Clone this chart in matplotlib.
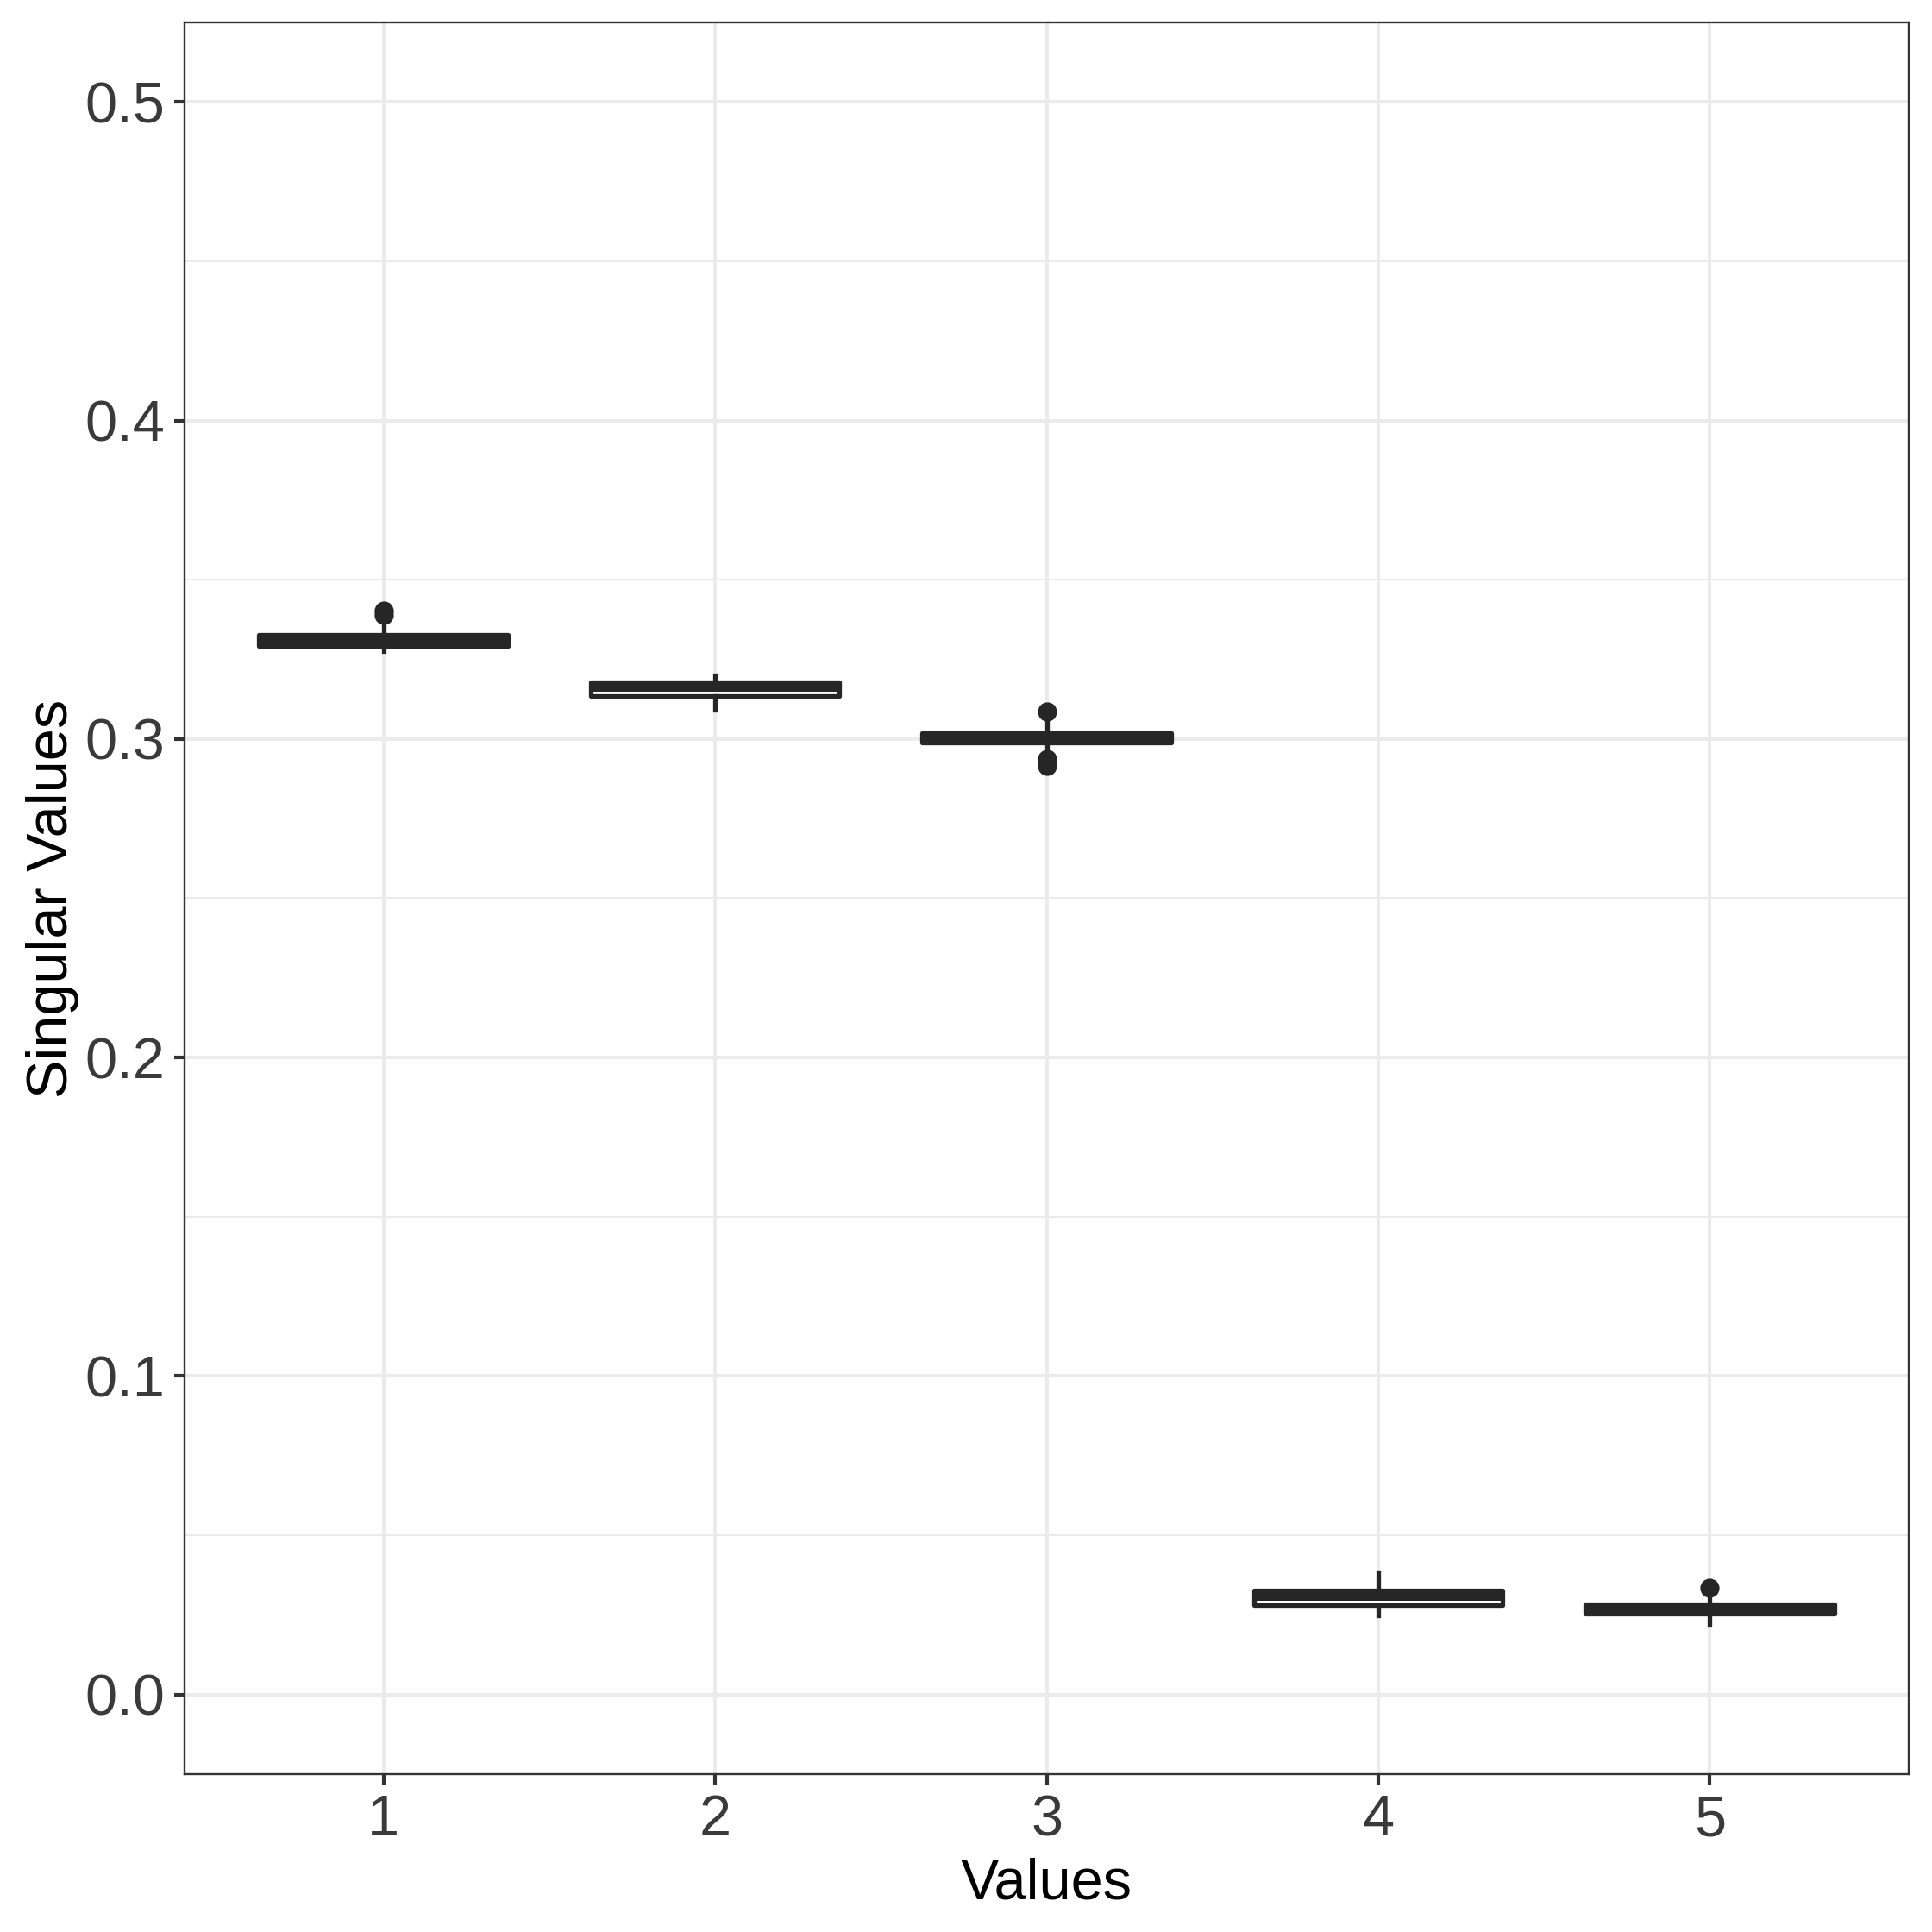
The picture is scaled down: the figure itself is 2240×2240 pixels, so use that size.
import matplotlib.pyplot as plt
from matplotlib.ticker import MultipleLocator

# Box summaries (one entry per singular value index)
labels = ['1', '2', '3', '4', '5']
q1 = [0.3291, 0.3135, 0.2989, 0.0282, 0.0253]
med = [0.3308, 0.3161, 0.3004, 0.0308, 0.0269]
q3 = [0.3326, 0.3177, 0.3018, 0.0328, 0.0284]
whislo = [0.3276, 0.3092, 0.2967, 0.0247, 0.0220]
whishi = [0.3360, 0.3200, 0.3056, 0.0385, 0.0306]
fliers = [[0.3403, 0.3389], [], [0.3086, 0.2937, 0.2916], [], [0.0335]]

plt.rcParams['font.family'] = ['Liberation Sans', 'DejaVu Sans']

dark = '#262626'
grid_col = '#EBEBEB'

fig = plt.figure(figsize=(11.2, 11.2), dpi=200)
ax = fig.add_axes([0.0955, 0.0817, 0.8925, 0.9067])

stats = []
for i in range(len(labels)):
    stats.append({'label': labels[i], 'q1': q1[i], 'med': med[i], 'q3': q3[i],
                  'whislo': whislo[i], 'whishi': whishi[i], 'fliers': fliers[i]})

positions = list(range(1, len(labels) + 1))
ax.bxp(stats, positions=positions, widths=0.75, patch_artist=True,
       showcaps=False, zorder=3,
       boxprops=dict(facecolor='white', edgecolor=dark, linewidth=1.9,
                     joinstyle='round'),
       medianprops=dict(color=dark, linewidth=3.6, solid_capstyle='butt'),
       whiskerprops=dict(color=dark, linewidth=1.9),
       flierprops=dict(marker='o', markerfacecolor=dark, markeredgecolor=dark,
                       markersize=7.0, linestyle='none'))

ax.set_xlim(0.4, 5.6)
ax.set_ylim(-0.025, 0.525)
ax.set_yticks([0.0, 0.1, 0.2, 0.3, 0.4, 0.5])
ax.set_yticklabels(['0.0', '0.1', '0.2', '0.3', '0.4', '0.5'])
ax.yaxis.set_minor_locator(MultipleLocator(0.05))
ax.set_xticks(positions)
ax.set_xticklabels(labels)

ax.grid(which='major', color=grid_col, linewidth=1.45, zorder=0)
ax.grid(which='minor', axis='y', color=grid_col, linewidth=0.75, zorder=0)
ax.set_axisbelow(True)

for s in ax.spines.values():
    s.set_color('#333333')
    s.set_linewidth(0.85)

ax.tick_params(which='major', length=4.3, width=1.5, color='#333333',
               labelsize=24, labelcolor='#3A3A3A', pad=4)
ax.tick_params(which='minor', length=0)

ax.set_xlabel('Values', fontsize=24, color='black', labelpad=4)
ax.set_ylabel('Singular Values', fontsize=24, color='black', labelpad=2)

fig.savefig('out.png', dpi=200, facecolor='white')
